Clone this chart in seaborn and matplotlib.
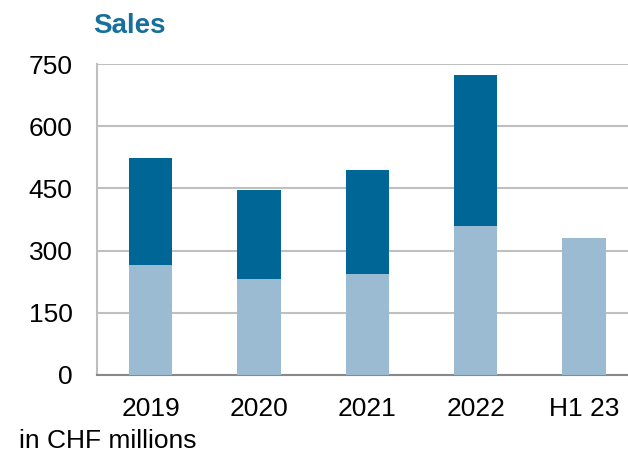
import numpy as np
import pandas as pd
import matplotlib
matplotlib.use("Agg")
import matplotlib.pyplot as plt
import seaborn as sns

categories = ["2019", "2020", "2021", "2022", "H1 23"]
first_half = [266, 232, 243, 359, 331]
second_half = [258, 213, 252, 365, np.nan]
y_ticks = [0, 150, 300, 450, 600, 750]

sns.set_theme(style="white")
plt.rcParams["font.family"] = ["Liberation Sans", "DejaVu Sans"]

totals = [a + (0 if np.isnan(b) else b) for a, b in zip(first_half, second_half)]
df = pd.DataFrame({"cat": categories, "h1": first_half, "total": totals})

fig = plt.figure(figsize=(6.28, 4.54), dpi=100)
ax = fig.add_axes([96.7 / 628, 79 / 454, (638 - 96.7) / 628, 311 / 454])

dark = "#006696"
light = "#9bbbd3"
sns.barplot(data=df, x="cat", y="total", order=categories, color=dark,
            width=0.4, saturation=1, ax=ax, zorder=3, linewidth=0)
sns.barplot(data=df, x="cat", y="h1", order=categories, color=light,
            width=0.4, saturation=1, ax=ax, zorder=4, linewidth=0)

ax.set_ylim(0, 750)
ax.set_xlim(-0.5, len(categories) - 0.5)
ax.set_yticks(y_ticks)
ax.set_yticklabels([str(t) for t in y_ticks], fontsize=19, color="black")
ax.set_xticks(range(len(categories)))
ax.set_xticklabels(categories, fontsize=19, color="black")
ax.set_xticks(np.arange(-0.5, len(categories)), minor=True)
ax.tick_params(axis="x", which="major", length=0, pad=16)
ax.tick_params(axis="x", which="minor", length=6, width=1.5, color="#888888", direction="out")
ax.tick_params(axis="y", which="major", length=5, width=1.5, color="#bfbfbf", direction="out", pad=12.5)
ax.set_xlabel("")
ax.set_ylabel("")

ax.yaxis.grid(True, color="#bfbfbf", linewidth=1.5, zorder=0)
ax.set_axisbelow(True)
for s in ["top", "right"]:
    ax.spines[s].set_visible(False)
ax.spines["left"].set_color("#bfbfbf")
ax.spines["left"].set_linewidth(1.5)
ax.spines["bottom"].set_color("#888888")
ax.spines["bottom"].set_linewidth(1.5)

fig.text(93 / 628, 1 - 26 / 454, "Sales", fontsize=20, fontweight="bold",
         color="#17709c", ha="left", va="center")
fig.text(19 / 628, 1 - 441 / 454, "in CHF millions", fontsize=19,
         color="black", ha="left", va="center")

fig.savefig("out.png", dpi=100)
